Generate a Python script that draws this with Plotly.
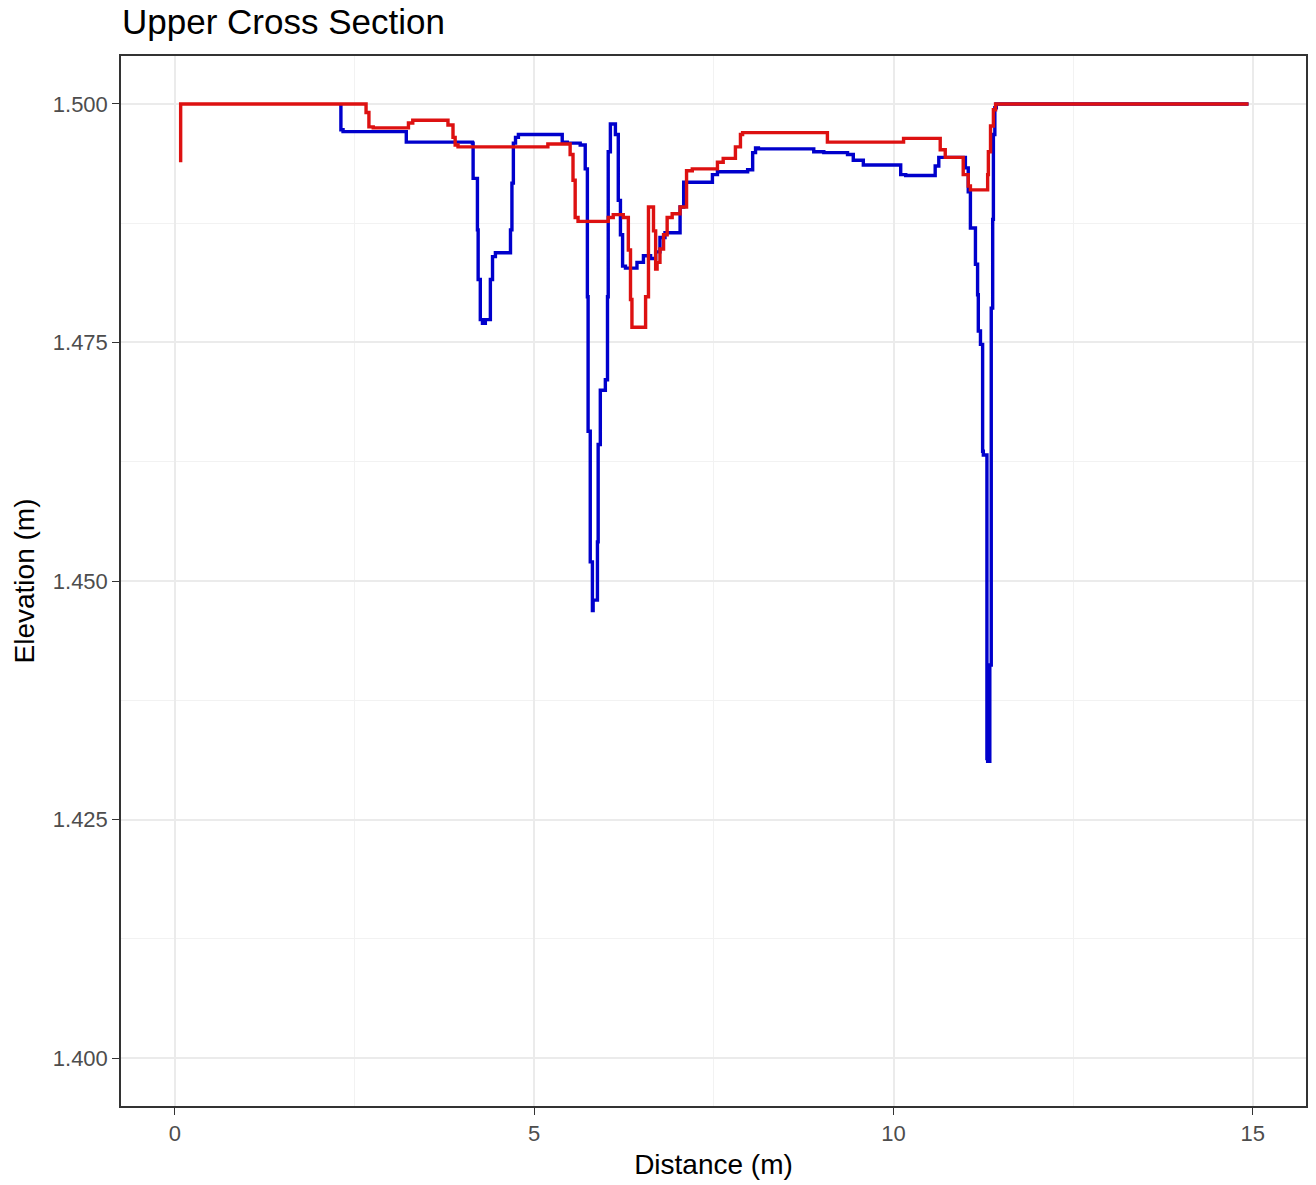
import plotly.graph_objects as go

# Blue profile (distance m, elevation m)
blue_x = [2.31, 2.34, 2.55, 3.22, 3.29, 4.14, 4.15, 4.21, 4.22, 4.25, 4.28, 4.32, 4.39, 4.42, 4.46,
          4.53, 4.67, 4.69, 4.71, 4.74, 4.78, 5.39, 5.46, 5.64, 5.71, 5.74, 5.75, 5.78, 5.81, 5.82,
          5.88, 5.89, 5.92, 5.92, 5.99, 6.02, 6.03, 6.06, 6.10, 6.13, 6.17, 6.20, 6.23, 6.27, 6.43,
          6.52, 6.62, 6.69, 6.75, 6.82, 6.87, 7.03, 7.08, 7.13, 7.48, 7.55, 7.97, 8.04, 8.08, 8.12,
          8.89, 9.03, 9.36, 9.44, 9.58, 9.64, 10.10, 10.17, 10.58, 10.63, 10.70, 11.00, 11.04, 11.07,
          11.07, 11.14, 11.17, 11.18, 11.21, 11.24, 11.25, 11.30, 11.30, 11.31, 11.34, 11.36, 11.38,
          11.39, 11.41, 11.43, 11.45, 14.94]
blue_y = [1.5000, 1.4973, 1.4971, 1.4971, 1.4960, 1.4960, 1.4959, 1.4922, 1.4868, 1.4816, 1.4774,
          1.4770, 1.4774, 1.4816, 1.4840, 1.4844, 1.4844, 1.4868, 1.4917, 1.4959, 1.4965, 1.4968,
          1.4960, 1.4959, 1.4957, 1.4932, 1.4798, 1.4657, 1.4520, 1.4469, 1.4480, 1.4541, 1.4643,
          1.4697, 1.4700, 1.4711, 1.4798, 1.4950, 1.4979, 1.4979, 1.4968, 1.4899, 1.4863, 1.4830,
          1.4828, 1.4834, 1.4841, 1.4838, 1.4845, 1.4860, 1.4865, 1.4865, 1.4892, 1.4918, 1.4918,
          1.4926, 1.4929, 1.4931, 1.4949, 1.4954, 1.4953, 1.4950, 1.4949, 1.4947, 1.4941, 1.4936,
          1.4936, 1.4926, 1.4925, 1.4935, 1.4944, 1.4944, 1.4933, 1.4908, 1.4879, 1.4870, 1.4832,
          1.4800, 1.4762, 1.4748, 1.4636, 1.4632, 1.4450, 1.4314, 1.4311, 1.4412, 1.4786, 1.4879,
          1.4968, 1.4996, 1.5000, 1.5000]

# Red profile
red_x = [0.08, 0.08, 2.66, 2.70, 2.76, 2.80, 3.25, 3.31, 3.38, 3.80, 3.87, 3.90, 3.94, 4.15, 5.19,
         5.22, 5.50, 5.54, 5.57, 5.61, 5.67, 6.03, 6.10, 6.24, 6.31, 6.34, 6.36, 6.41, 6.55, 6.59,
         6.62, 6.66, 6.69, 6.71, 6.75, 6.80, 6.85, 6.92, 7.03, 7.12, 7.20, 7.55, 7.63, 7.70, 7.80,
         7.87, 7.90, 7.94, 9.08, 9.16, 10.14, 10.24, 10.65, 10.72, 10.77, 10.97, 11.04, 11.07, 11.11,
         11.31, 11.32, 11.35, 11.39, 11.42, 11.45, 14.94]
red_y = [1.4939, 1.5000, 1.5000, 1.4991, 1.4976, 1.4975, 1.4975, 1.4980, 1.4983, 1.4983, 1.4978,
         1.4965, 1.4957, 1.4955, 1.4955, 1.4958, 1.4958, 1.4947, 1.4920, 1.4881, 1.4877, 1.4877,
         1.4881, 1.4884, 1.4881, 1.4847, 1.4795, 1.4766, 1.4766, 1.4798, 1.4892, 1.4892, 1.4867,
         1.4827, 1.4834, 1.4848, 1.4863, 1.4881, 1.4885, 1.4892, 1.4930, 1.4932, 1.4939, 1.4943,
         1.4943, 1.4955, 1.4968, 1.4970, 1.4970, 1.4960, 1.4960, 1.4964, 1.4964, 1.4952, 1.4944,
         1.4944, 1.4926, 1.4914, 1.4910, 1.4910, 1.4926, 1.4950, 1.4977, 1.4994, 1.5000, 1.5000]

x_ticks = [0, 5, 10, 15]
y_ticks = [1.400, 1.425, 1.450, 1.475, 1.500]
y_tick_text = ["1.400", "1.425", "1.450", "1.475", "1.500"]

fig = go.Figure()
fig.add_trace(go.Scatter(x=blue_x, y=blue_y, mode="lines",
                         line=dict(color="#0000cc", width=3.4, shape="vh"), showlegend=False))
fig.add_trace(go.Scatter(x=red_x, y=red_y, mode="lines",
                         line=dict(color="#dd1111", width=3.4, shape="vh"), showlegend=False))

font_family = "Liberation Sans, Arial, sans-serif"
fig.update_layout(
    width=1316, height=1185,
    margin=dict(l=121, r=10, t=56, b=79, autoexpand=False),
    paper_bgcolor="white", plot_bgcolor="white",
    title=dict(text="Upper Cross Section", x=122 / 1316, xref="container", xanchor="left",
               y=1 - 22 / 1185, yref="container", yanchor="middle",
               font=dict(family=font_family, size=35, color="black")),
    font=dict(family=font_family),
)
fig.update_xaxes(
    range=[-0.75, 15.74], tickvals=x_ticks, ticks="outside", ticklen=7, tickcolor="#333333",
    tickfont=dict(size=22, color="#4d4d4d"), automargin=False,
    showgrid=True, gridcolor="#ebebeb", gridwidth=1.5,
    minor=dict(dtick=2.5, tick0=0, showgrid=True, gridcolor="#f2f2f2", gridwidth=1),
    showline=True, linecolor="#333333", linewidth=1.5, mirror=True, zeroline=False,
    title=dict(text="Distance (m)", font=dict(size=28, color="black"), standoff=9),
)
fig.update_yaxes(
    range=[1.39497, 1.50503], tickvals=y_ticks, ticktext=y_tick_text, ticks="outside",
    ticklen=7, tickcolor="#333333", automargin=False,
    tickfont=dict(size=22, color="#4d4d4d"),
    showgrid=True, gridcolor="#ebebeb", gridwidth=1.5,
    minor=dict(dtick=0.0125, tick0=1.4, showgrid=True, gridcolor="#f2f2f2", gridwidth=1),
    showline=True, linecolor="#333333", linewidth=1.5, mirror=True, zeroline=False,
    title=dict(text="Elevation (m)", font=dict(size=28, color="black"), standoff=10),
)

# remove the browser's default 8px body margin so the figure sits at the page origin
fig.write_html("out.html",
               config={"displayModeBar": False},
               post_script="document.body.style.margin='0px';document.body.style.overflow='hidden';")
